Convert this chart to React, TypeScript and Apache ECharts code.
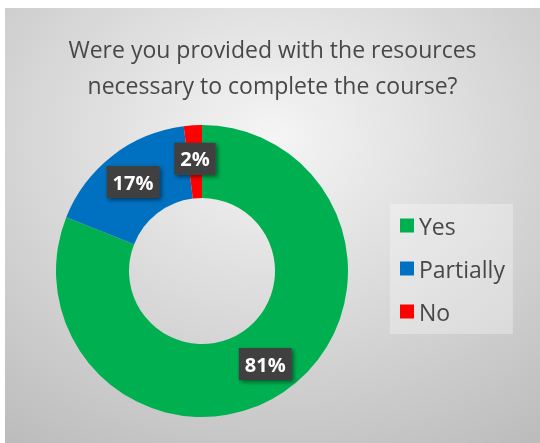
import React, { useEffect, useRef } from "react";
import * as echarts from "echarts";

const titleLines = ["Were you provided with the resources", "necessary to complete the course?"];
const categories = ["Yes", "Partially", "No"];
const values = [81, 17, 2];
const colors = ["#00b050", "#0070c0", "#ff0000"];

export default function App() {
  const ref = useRef<HTMLDivElement>(null);
  useEffect(() => {
    if (!ref.current) return;
    const chart = echarts.init(ref.current, null, { renderer: "svg" });
    chart.setOption({
      animation: false,
      backgroundColor: {
        type: "radial",
        x: 0.5,
        y: 0.3,
        r: 0.85,
        colorStops: [
          { offset: 0, color: "#f5f5f5" },
          { offset: 1, color: "#bcbcbc" },
        ],
      },
      title: {
        text: titleLines.join("\n"),
        left: "center",
        top: 18,
        textStyle: {
          fontFamily: "Open Sans",
          fontSize: 23,
          fontWeight: "normal",
          color: "#484848",
          lineHeight: 36,
        },
      },
      legend: {
        orient: "vertical",
        left: 385,
        top: 196,
        padding: [10, 8, 11, 10],
        backgroundColor: "rgba(255,255,255,0.3)",
        icon: "rect",
        itemWidth: 14,
        itemHeight: 14,
        itemGap: 20,
        data: categories,
        textStyle: {
          fontFamily: "Open Sans",
          fontSize: 23,
          color: "#484848",
          lineHeight: 22,
        },
      },
      series: [
        {
          type: "pie",
          center: [197, 263],
          radius: [73, 146],
          startAngle: 90,
          clockwise: true,
          avoidLabelOverlap: false,
          data: categories.map((c, i) => ({
            name: c,
            value: values[i],
            itemStyle: { color: colors[i] },
          })),
          label: {
            show: true,
            position: "inside",
            formatter: "{c}%",
            fontFamily: "Open Sans",
            fontSize: 20,
            fontWeight: "bold",
            color: "#ffffff",
            backgroundColor: "#404040",
            padding: [7, 6, 5, 6],
            shadowColor: "rgba(0,0,0,0.5)",
            shadowBlur: 4,
            shadowOffsetX: 2,
            shadowOffsetY: 2,
          },
          labelLine: { show: false },
          emphasis: { disabled: true },
        },
      ],
    });
    return () => chart.dispose();
  }, []);
  return (
    <div
      ref={ref}
      style={{ position: "fixed", left: 5, top: 8, width: 535, height: 435 }}
    />
  );
}
